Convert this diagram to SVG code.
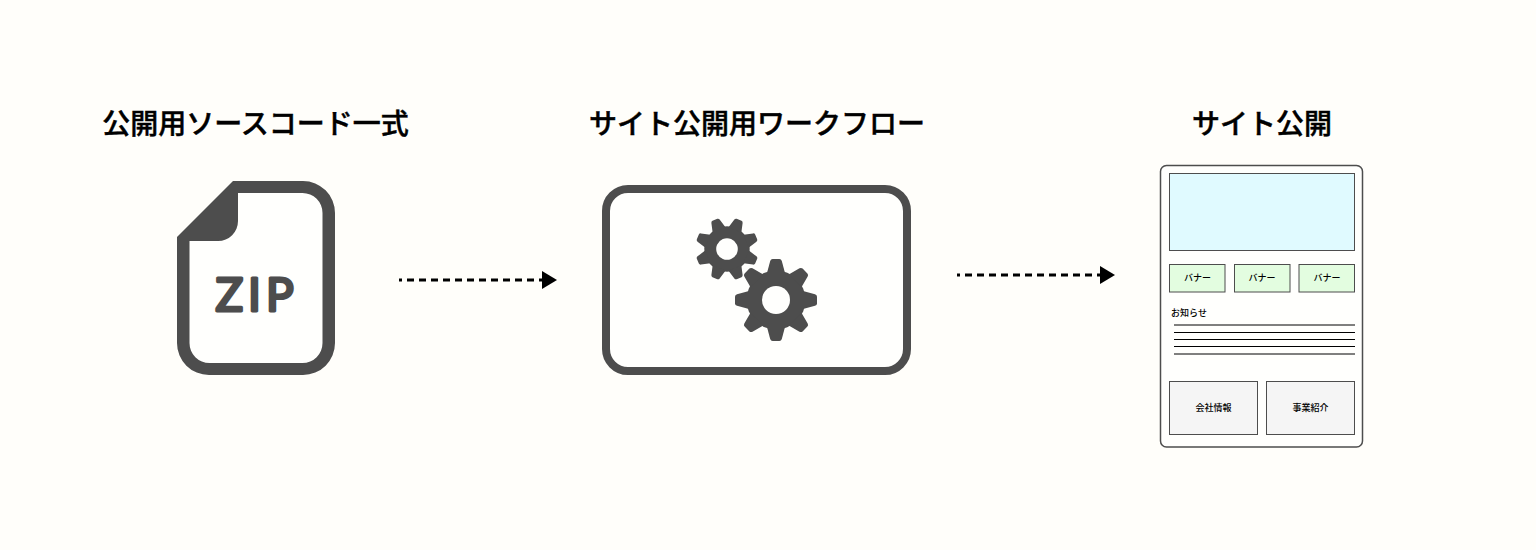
<svg xmlns="http://www.w3.org/2000/svg" width="1536" height="550" viewBox="0 0 1536 550">
<style>
.t{font-family:"Noto Sans CJK JP","Liberation Sans",sans-serif;fill:#000}
.h{font-size:28px;font-weight:500;stroke:#000;stroke-width:.45px;text-anchor:middle}
.s{font-size:9px;font-weight:500;text-anchor:middle}
.b{stroke:#4d4d4d;stroke-width:1}
.ic{fill:#4d4d4d}
.c{fill:none;stroke:#000;stroke-width:3;stroke-dasharray:7 5;stroke-dashoffset:4}
</style>
<defs>
<marker id="a" viewBox="0 0 15 18" refX="0" refY="9" markerWidth="15" markerHeight="18" markerUnits="userSpaceOnUse" orient="auto"><path d="M0,0L15,9L0,18Z" fill="#000"/></marker>
<path id="tooth" class="ic" d="M-9,-27L-5.800,-39Q-5.200,-41 -3.400,-41L3.400,-41Q5.200,-41 5.800,-39L9,-27Z"/>
<g id="gear">
<circle class="ic" r="29.500"/>
<use href="#tooth"/><use href="#tooth" transform="rotate(45)"/><use href="#tooth" transform="rotate(90)"/><use href="#tooth" transform="rotate(135)"/><use href="#tooth" transform="rotate(180)"/><use href="#tooth" transform="rotate(225)"/><use href="#tooth" transform="rotate(270)"/><use href="#tooth" transform="rotate(315)"/>
<circle r="14" fill="#fffffd"/>
</g>
</defs>
<rect width="1536" height="550" fill="#fffefa"/>
<g id="connectors">
<path class="c" d="M399,280H542" marker-end="url(#a)"/>
<path class="c" d="M957,275H1100" marker-end="url(#a)"/>
</g>
<g id="zip">
<text class="t h" x="255.500" y="134">公開用ソースコード一式</text>
<path fill="#fffffd" d="M233,187H303A26,26 0 0 1 329,213V343A26,26 0 0 1 303,369H209A26,26 0 0 1 183,343V237Z"/>
<path class="ic" fill-rule="evenodd" d="M233,181H303A32,32 0 0 1 335,213V343A32,32 0 0 1 303,375H209A32,32 0 0 1 177,343V237ZM238,193V221A20,20 0 0 1 218,241H189.500V343A20,20 0 0 0 209.500,363H302.500A20,20 0 0 0 322.500,343V213A20,20 0 0 0 302.500,193Z"/>
<text x="257" y="310.500" font-family="Lato,'Liberation Sans',sans-serif" font-size="46" font-weight="400" fill="#4d4d4d" stroke="#4d4d4d" stroke-width="3" stroke-linejoin="round" text-anchor="middle" letter-spacing="5">ZIP</text>
</g>
<g id="workflow">
<text class="t h" x="757" y="134">サイト公開用ワークフロー</text>
<rect x="606" y="189" width="301" height="182" rx="22" fill="#fffffd" stroke="#4d4d4d" stroke-width="8"/>
<use href="#gear" transform="translate(727,249) rotate(22.500) scale(.77)"/>
<use href="#gear" transform="translate(776,300)"/>
</g>
<g id="site">
<text class="t h" x="1262" y="134">サイト公開</text>
<rect x="1160.500" y="165.500" width="202" height="281.500" rx="6" fill="#fffffd" stroke="#4d4d4d" stroke-width="1.500"/>
<rect class="b" x="1169.500" y="173.500" width="185" height="77" fill="#e0faff"/>
<g fill="#e3fde0">
<rect class="b" x="1169.500" y="264.500" width="55.500" height="27.500"/>
<rect class="b" x="1234.500" y="264.500" width="55.500" height="27.500"/>
<rect class="b" x="1299" y="264.500" width="55.500" height="27.500"/>
</g>
<text class="t s" x="1197.500" y="281">バナー</text>
<text class="t s" x="1262" y="281">バナー</text>
<text class="t s" x="1327" y="281">バナー</text>
<text class="t s" x="1189" y="316">お知らせ</text>
<path d="M1174,325H1355M1174,332.500H1355M1174,339.500H1355M1174,346.500H1355M1174,354H1355" fill="none" stroke="#000" stroke-width="1"/>
<rect class="b" x="1169.500" y="381.500" width="88" height="53" fill="#f5f5f5"/>
<rect class="b" x="1266.500" y="381.500" width="88" height="53" fill="#f5f5f5"/>
<text class="t s" x="1213.500" y="411">会社情報</text>
<text class="t s" x="1310.500" y="411">事業紹介</text>
</g>
</svg>
